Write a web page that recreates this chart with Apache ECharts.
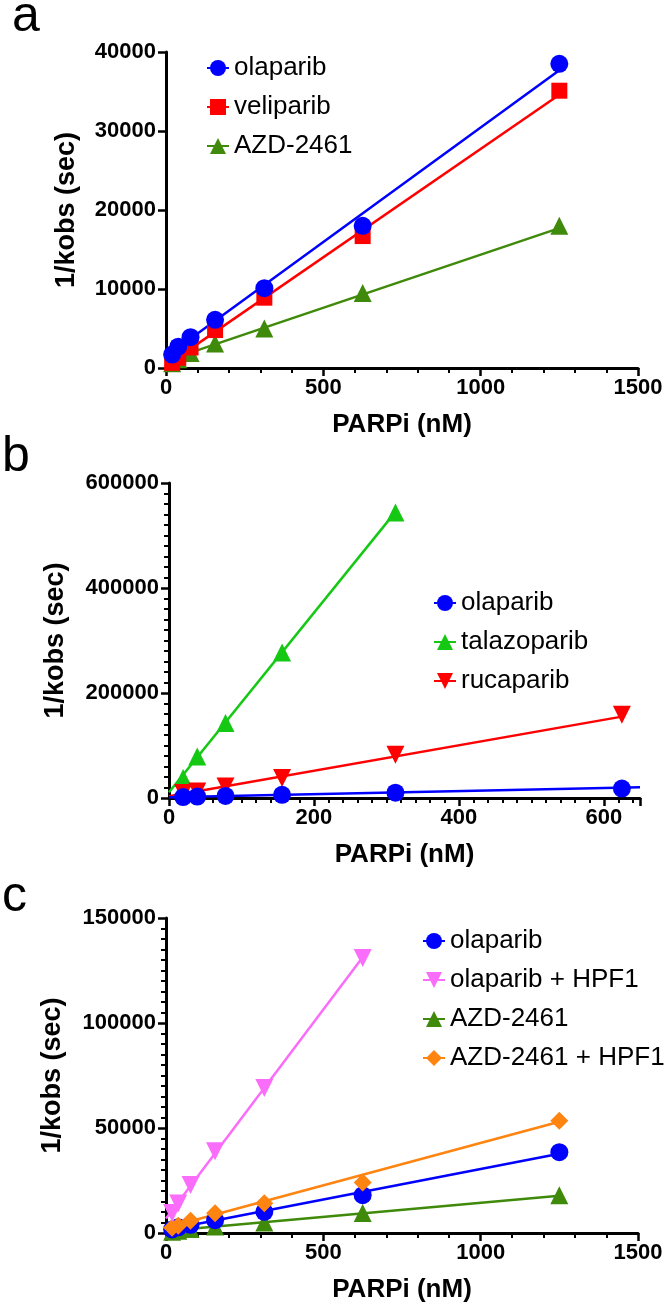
<!DOCTYPE html>
<html>
<head>
<meta charset="utf-8">
<script src="https://cdn.jsdelivr.net/npm/echarts@6/dist/echarts.min.js"></script>
<style>
html,body{margin:0;padding:0;background:#fff;}
#chart{width:666px;height:1307px;}
</style>
</head>
<body>
<div id="chart"></div>
<script>
// ---- data ----
const concA = [19.5, 39, 78, 156, 312.5, 625, 1250];
const aOlaparib = [1700, 2700, 3900, 6100, 10100, 18000, 38500];
const aVeliparib = [650, 1300, 2600, 4800, 8900, 16700, 35100];
const aAZD = [600, 1100, 1900, 3100, 5000, 9500, 18000];
const aFitOlaparib = [[0, 1450], [1250, 37700]];
const aFitVeliparib = [[0, 300], [1250, 34600]];
const aFitAZD = [[0, 900], [1250, 17700]];

const concB = [19.5, 39, 78, 156, 312.5, 625];
const bOlaparib = [1700, 2700, 3900, 6100, 10100, 18000];
const bTalazoparib = [38000, 79000, 143000, 277000, 544000];
const bRucaparib = [9500, 12500, 22000, 38000, 82500, 158500];
const bFitOlaparib = [[0, 1450], [650, 20300]];
const bFitTalazoparib = [[0, 11000], [312.5, 545000]];
const bFitRucaparib = [[0, 3500], [625, 155000]];

const concC = [19.5, 39, 78, 156, 312.5, 625, 1250];
const cOlaparib = [1700, 2700, 3900, 6100, 10100, 18000, 38500];
const cOlaparibHPF1 = [9500, 14000, 22800, 38900, 69000, 131000];
const cAZD = [600, 1100, 1900, 3100, 5000, 9500, 18000];
const cAZDHPF1 = [2500, 3500, 5800, 9400, 14200, 24100, 53500];
const cFitOlaparib = [[0, 1450], [1250, 37700]];
const cFitOlaparibHPF1 = [[0, 6900], [625, 131300]];
const cFitAZD = [[0, 900], [1250, 17700]];
const cFitAZDHPF1 = [[0, 2500], [1250, 53000]];

const panelLabels = ['a', 'b', 'c'];
const xName = 'PARPi (nM)';
const yName = '1/kobs (sec)';

// ---- styles ----
const C = {
  olaparib: '#0000ff', veliparib: '#ff0000', azd: '#3f8a0a',
  talazoparib: '#14c814', rucaparib: '#ff0000', olaHPF1: '#fa6cfa', azdHPF1: '#ff8410'
};
const FONT = '"Liberation Sans", Arial, Helvetica, sans-serif';

function pairs(xs, ys) { return ys.map((y, i) => [xs[i], y]); }
const plain = v => String(v);

function axisX(gi, max, interval, minorSplit) {
  return {
    type: 'value', gridIndex: gi, min: 0, max: max, interval: interval,
    name: xName, nameLocation: 'middle', nameGap: 44,
    nameTextStyle: {fontFamily: FONT, fontWeight: 'bold', fontSize: 26, color: '#000'},
    axisLine: {show: true, onZero: false, lineStyle: {color: '#000', width: 3}},
    axisTick: {show: true, inside: false, length: 8, lineStyle: {color: '#000', width: 2.5}},
    minorTick: {show: true, splitNumber: minorSplit, length: 5, lineStyle: {color: '#000', width: 2}},
    splitLine: {show: false}, minorSplitLine: {show: false},
    axisLabel: {fontFamily: FONT, fontWeight: 'bold', fontSize: 22, color: '#000', margin: 9,
      showMaxLabel: max % interval === 0, formatter: plain}
  };
}
function axisY(gi, max, interval, minorSplit, nameGap) {
  return {
    type: 'value', gridIndex: gi, min: 0, max: max, interval: interval,
    name: yName, nameLocation: 'middle', nameGap: nameGap,
    nameTextStyle: {fontFamily: FONT, fontWeight: 'bold', fontSize: 27, color: '#000'},
    axisLine: {show: true, onZero: false, lineStyle: {color: '#000', width: 3}},
    axisTick: {show: true, inside: false, length: 8, lineStyle: {color: '#000', width: 2.5}},
    minorTick: {show: minorSplit > 0, splitNumber: minorSplit || 5, length: 5, lineStyle: {color: '#000', width: 2}},
    splitLine: {show: false}, minorSplitLine: {show: false},
    axisLabel: {fontFamily: FONT, fontWeight: 'bold', fontSize: 22, color: '#000', margin: 10, formatter: plain}
  };
}

const SYM = {
  circle: {symbol: 'circle', size: 18, rotate: 0},
  square: {symbol: 'rect', size: 16, rotate: 0},
  up: {symbol: 'triangle', size: 18, rotate: 0},
  down: {symbol: 'triangle', size: 18, rotate: 180},
  diamond: {symbol: 'diamond', size: 18, rotate: 0}
};

function fit(name, gi, data, color, sym) {
  return {
    type: 'line', name: name, xAxisIndex: gi, yAxisIndex: gi, data: data,
    showSymbol: false, symbol: sym.symbol, symbolRotate: sym.rotate, symbolSize: sym.size,
    lineStyle: {color: color, width: 2.5}, itemStyle: {color: color},
    silent: true, animation: false, z: 2
  };
}
function pts(name, gi, data, color, sym, z) {
  return {
    type: 'scatter', name: name + ' data', xAxisIndex: gi, yAxisIndex: gi, data: data,
    symbol: sym.symbol, symbolRotate: sym.rotate, symbolSize: sym.size,
    itemStyle: {color: color, opacity: 1}, silent: true, animation: false, z: z
  };
}

function legend(left, top, names) {
  return {
    orient: 'vertical', left: left, top: top, data: names,
    itemWidth: 22, itemHeight: 20, itemGap: 13, selectedMode: false,
    textStyle: {fontFamily: FONT, fontSize: 26, color: '#000', padding: [0, 0, 0, 0]}
  };
}

const grids = [
  {left: 166, width: 472, top: 52, height: 316},
  {left: 169, width: 471, top: 483, height: 315},
  {left: 166, width: 472, top: 918, height: 315}
];

const option = {
  backgroundColor: '#fff',
  animation: false,
  grid: grids,
  xAxis: [axisX(0, 1500, 500, 5), axisX(1, 650, 200, 10), axisX(2, 1500, 500, 5)],
  yAxis: [axisY(0, 40000, 10000, 0, 86), axisY(1, 600000, 200000, 10, 100), axisY(2, 150000, 50000, 10, 100)],
  legend: [
    legend(201, 50, ['olaparib', 'veliparib', 'AZD-2461']),
    legend(428, 585, ['olaparib', 'talazoparib', 'rucaparib']),
    legend(417, 923, ['olaparib', 'olaparib + HPF1', 'AZD-2461', 'AZD-2461 + HPF1'])
  ],
  graphic: [
    {type: 'text', left: 12, top: -8, style: {text: panelLabels[0], font: '50px ' + FONT, fill: '#000'}},
    {type: 'text', left: 2, top: 432, style: {text: panelLabels[1], font: '50px ' + FONT, fill: '#000'}},
    {type: 'text', left: 2, top: 872, style: {text: panelLabels[2], font: '50px ' + FONT, fill: '#000'}}
  ],
  series: [
    // panel a
    fit('AZD-2461', 0, aFitAZD, C.azd, SYM.up),
    fit('veliparib', 0, aFitVeliparib, C.veliparib, SYM.square),
    fit('olaparib', 0, aFitOlaparib, C.olaparib, SYM.circle),
    pts('AZD-2461', 0, pairs(concA, aAZD), C.azd, SYM.up, 5),
    pts('veliparib', 0, pairs(concA, aVeliparib), C.veliparib, SYM.square, 6),
    pts('olaparib', 0, pairs(concA, aOlaparib), C.olaparib, SYM.circle, 7),
    // panel b
    fit('talazoparib', 1, bFitTalazoparib, C.talazoparib, SYM.up),
    fit('rucaparib', 1, bFitRucaparib, C.rucaparib, SYM.down),
    fit('olaparib b', 1, bFitOlaparib, C.olaparib, SYM.circle),
    pts('talazoparib', 1, pairs(concB, bTalazoparib), C.talazoparib, SYM.up, 5),
    pts('rucaparib', 1, pairs(concB, bRucaparib), C.rucaparib, SYM.down, 6),
    pts('olaparib b', 1, pairs(concB, bOlaparib), C.olaparib, SYM.circle, 7),
    // panel c
    fit('AZD-2461 c', 2, cFitAZD, C.azd, SYM.up),
    fit('olaparib c', 2, cFitOlaparib, C.olaparib, SYM.circle),
    fit('AZD-2461 + HPF1', 2, cFitAZDHPF1, C.azdHPF1, SYM.diamond),
    fit('olaparib + HPF1', 2, cFitOlaparibHPF1, C.olaHPF1, SYM.down),
    pts('AZD-2461 c', 2, pairs(concC, cAZD), C.azd, SYM.up, 5),
    pts('olaparib c', 2, pairs(concC, cOlaparib), C.olaparib, SYM.circle, 6),
    pts('AZD-2461 + HPF1', 2, pairs(concC, cAZDHPF1), C.azdHPF1, SYM.diamond, 7),
    pts('olaparib + HPF1', 2, pairs(concC, cOlaparibHPF1), C.olaHPF1, SYM.down, 8)
  ]
};

const chart = echarts.init(document.getElementById('chart'), null, {renderer: 'canvas'});
chart.setOption(option);
</script>
</body>
</html>
